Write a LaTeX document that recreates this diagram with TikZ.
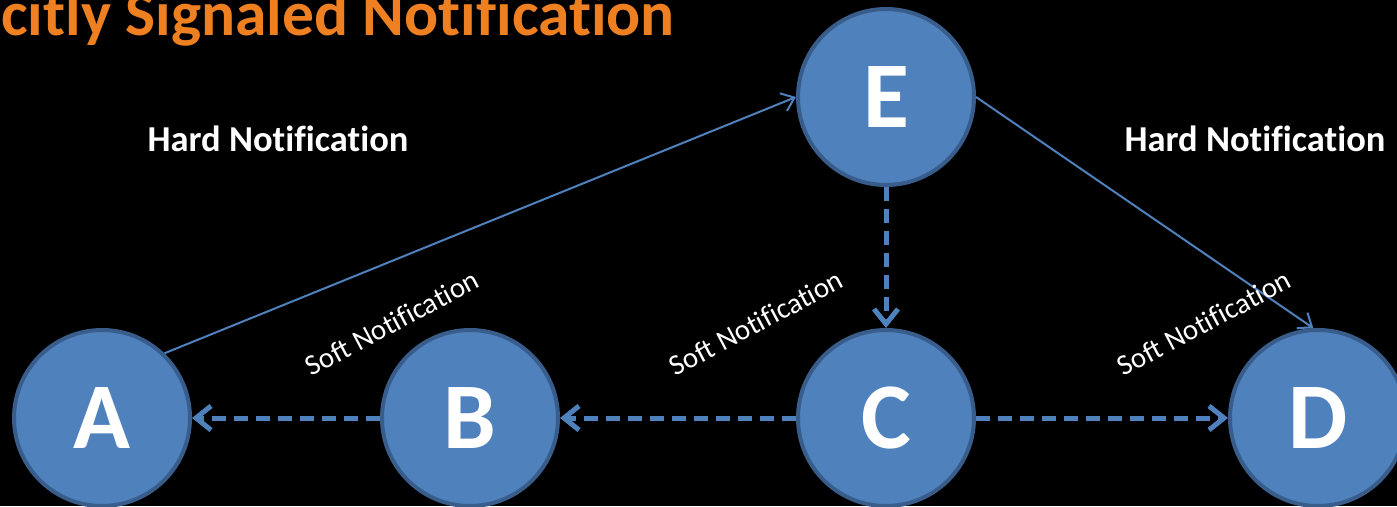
\documentclass[tikz,border=0pt]{standalone}
\usepackage{fontspec}
\setmainfont{Carlito}[Ligatures=NoCommon]
\usetikzlibrary{arrows.meta}
\definecolor{nodefill}{RGB}{79,129,189}
\definecolor{nodeline}{RGB}{56,93,138}
\definecolor{titleorange}{RGB}{238,128,34}
\begin{document}
\begin{tikzpicture}[x=1pt,y=-1pt,
  state/.style={circle, draw=nodeline, fill=nodefill, line width=4pt,
    minimum size=176pt, inner sep=0pt, text=white,
    font=\fontsize{94}{94}\selectfont\bfseries},
  hard/.style={draw=nodefill, line width=2pt,
    -{Straight Barb[length=12pt,width=19pt]}},
  soft/.style={draw=nodefill, line width=5pt, dash pattern=on 14pt off 8pt,
    -{Straight Barb[length=15pt,width=24pt]}},
  lbl/.style={text=white, inner sep=0pt, font=\fontsize{36.5}{36.5}\selectfont\bfseries},
  softlbl/.style={text=white, inner sep=0pt, rotate=28, font=\fontsize{29}{29}\selectfont}]
\useasboundingbox (0,0) rectangle (1397,506);
\fill[black] (0,0) rectangle (1397,506);
\clip (0,0) rectangle (1397,506);

% heading
\node[anchor=base west, inner sep=0pt, text=titleorange,
  font=\fontsize{63.5}{63.5}\selectfont\bfseries] (title) at (1,35) {citly Signaled Notification};

% states
\node[state] (A) at (102,418) {A};
\node[state] (B) at (470,418) {B};
\node[state] (C) at (886,418) {C};
\node[state] (D) at (1318,418) {D};
\node[state] (E) at (886,97) {E};

% hard notifications
\draw[hard] (A.46) -- (E.west);
\draw[hard] (E.east) -- (D.93);

% soft notifications
\draw[soft] (E.south) -- (C.north);
\draw[soft] (C.east) -- (D.west);
\draw[soft] (C.west) -- (B.east);
\draw[soft] (B.west) -- (A.east);

% labels
\node[lbl] (h1) at (278,139) {Hard Notification};
\node[lbl] (h2) at (1255,139) {Hard Notification};
\node[softlbl] (s1) at (392,323) {Soft Notification};
\node[softlbl] (s2) at (756,323) {Soft Notification};
\node[softlbl] (s3) at (1204,323) {Soft Notification};
\end{tikzpicture}
\end{document}
